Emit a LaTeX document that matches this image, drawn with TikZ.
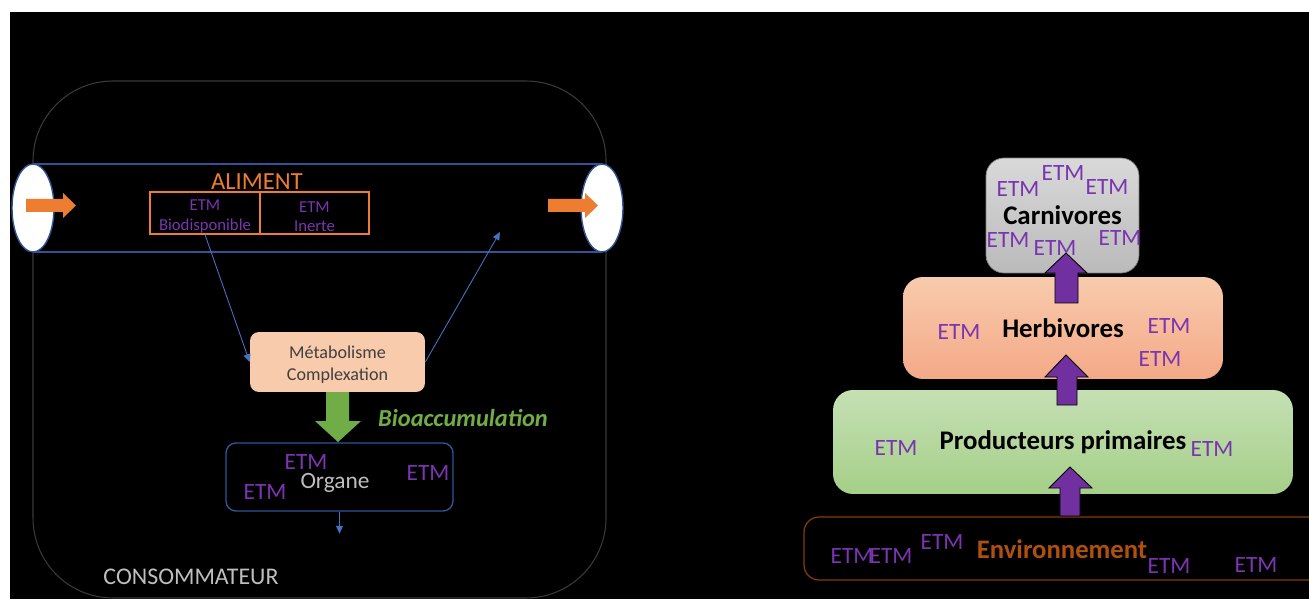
\documentclass[tikz,border=0pt]{standalone}
\usepackage{fontspec}
\setmainfont{Carlito}
\usetikzlibrary{shapes.geometric,arrows.meta}

\definecolor{tubeblue}{HTML}{2F5597}
\definecolor{linkblue}{HTML}{4472C4}
\definecolor{foodorange}{HTML}{ED7D31}
\definecolor{etmpurple}{HTML}{7A35B0}
\definecolor{arrowpurple}{HTML}{7030A0}
\definecolor{bioagreen}{HTML}{70AD47}
\definecolor{peach}{HTML}{F8CBAD}
\definecolor{peachdark}{HTML}{F4A987}
\definecolor{greentop}{HTML}{C5E0B4}
\definecolor{greenbot}{HTML}{A5CF88}
\definecolor{consgray}{HTML}{3A3A3A}
\definecolor{lightgray}{HTML}{BFBFBF}
\definecolor{envbrown}{HTML}{843C0C}
\definecolor{envtext}{HTML}{B0500F}

\tikzset{
  etmsmall/.style={text=etmpurple, font=\fontsize{9.5}{11}\selectfont, align=center, inner sep=0pt},
  etmbig/.style={text=etmpurple, font=\fontsize{13.3}{16}\selectfont, inner sep=0pt},
  levelbox/.style={rounded corners=0.4cm, inner sep=0pt, outer sep=0pt,
    font=\bfseries\fontsize{15.3}{18}\selectfont, text=black},
  foodbox/.style={draw=foodorange, line width=0.7pt, inner sep=0pt, minimum height=0.84cm},
  linkarrow/.style={linkblue, line width=0.5pt, -{Triangle[width=4pt,length=4.5pt]}},
  fatup/.style={fill=arrowpurple, draw=black, line width=0.5pt},
}

\begin{document}
\begin{tikzpicture}[x=0.02cm,y=-0.02cm]
\useasboundingbox (0,0) rectangle (1309,601);
\fill[white] (0,0) rectangle (1309,601);
\fill[black] (10,12) rectangle (1309,599);

% consommateur
\draw[consgray, line width=0.6pt, rounded corners=1.6cm] (33,81) rectangle (606,598);
\node[text=lightgray, font=\fontsize{13.6}{16}\selectfont] (cons) at (191,577) {CONSOMMATEUR};

% tube digestif
\draw[tubeblue, line width=0.9pt] (33,164) -- (602,164) (33,252) -- (602,252);
\node[ellipse, draw=tubeblue, fill=white, line width=0.8pt, inner sep=0pt,
  minimum width=0.84cm, minimum height=1.76cm] (tubein) at (33,208) {};
\node[ellipse, draw=tubeblue, fill=white, line width=0.8pt, inner sep=0pt,
  minimum width=0.84cm, minimum height=1.76cm] (tubeout) at (602,208) {};
\fill[foodorange] (26,199) -- (63,199) -- (63,193) -- (76,205.5) -- (63,218) -- (63,212) -- (26,212) -- cycle;
\fill[foodorange] (548,199) -- (585,199) -- (585,193) -- (598,205.5) -- (585,218) -- (585,212) -- (548,212) -- cycle;

\node[text=foodorange, font=\fontsize{14}{17}\selectfont] (aliment) at (257,182) {ALIMENT};
\node[foodbox, minimum width=2.2cm] (bio) at (205,213) {};
\node[foodbox, minimum width=2.18cm] (inerte) at (314.5,213) {};
\node[etmsmall] (biotxt) at (205,216.5) {ETM\\Biodisponible};
\node[etmsmall] (inertetxt) at (314.5,216.5) {ETM\\Inerte};

% metabolisme
\node[fill=peach, rounded corners=0.18cm, minimum width=3.5cm, minimum height=1.2cm] (metab) at (337.5,362) {};
\node[align=center, inner sep=0pt, text=black!75, font=\fontsize{10.3}{12.5}\selectfont] (metabtxt) at (337.5,365) {Métabolisme\\Complexation};
\coordinate (tubeexit) at (500,232);
\draw[linkarrow] (bio.south) -- (metab.west);
\draw[linkarrow] (metab.east) -- (tubeexit);

% bioaccumulation
\fill[bioagreen] (326,392) -- (349,392) -- (349,421) -- (361,421) -- (338,442) -- (315,421) -- (326,421) -- cycle;
\node[text=bioagreen, font=\bfseries\itshape\fontsize{13.9}{16}\selectfont] (bioacc) at (463,418) {Bioaccumulation};

% organe
\node[draw=tubeblue, line width=0.8pt, rounded corners=0.2cm, minimum width=4.54cm, minimum height=1.36cm] (organe) at (339.5,477) {};
\node[text=lightgray, font=\fontsize{13.3}{16}\selectfont, inner sep=0pt] (organelbl) at (335,483) {Organe};
\node[etmbig] (etmo1) at (306,462) {ETM};
\node[etmbig] (etmo2) at (265,492) {ETM};
\node[etmbig] (etmo3) at (428,473) {ETM};
\draw[linkarrow] (organe.south) -- ++(0,22);

% chaine trophique
\node[levelbox, rounded corners=0.36cm, draw=gray, top color=black!15, bottom color=black!27,
  minimum width=3.06cm, minimum height=2.3cm] (carn) at (1062.5,215.5) {Carnivores};
\node[levelbox, top color=peach, bottom color=peachdark,
  minimum width=6.4cm, minimum height=2.04cm] (herb) at (1063,328) {Herbivores};
\node[levelbox, top color=greentop, bottom color=greenbot,
  minimum width=9.2cm, minimum height=2.08cm] (prod) at (1063,442) {Producteurs primaires};
\node[draw=envbrown, line width=0.7pt, rounded corners=0.3cm, minimum width=10.52cm, minimum height=1.26cm] (env) at (1067,548.5) {};
\node[text=envtext, font=\bfseries\fontsize{15.2}{18}\selectfont, inner sep=0pt] (envlbl) at (1062,549) {Environnement};

% transferts
\draw[fatup] (1060,516) -- (1060,488) -- (1049,488) -- (1070,467) -- (1092,488) -- (1080,488) -- (1080,516) -- cycle;
\draw[fatup] (1057,405) -- (1057,377) -- (1045,377) -- (1066,355) -- (1088,377) -- (1077,377) -- (1077,405) -- cycle;
\draw[fatup] (1055,303) -- (1055,273) -- (1045,273) -- (1066,253) -- (1087,273) -- (1078,273) -- (1078,303) -- cycle;

\node[etmbig] (etmc1) at (1018,189) {ETM};
\node[etmbig] (etmc2) at (1063,173) {ETM};
\node[etmbig] (etmc3) at (1107,187) {ETM};
\node[etmbig] (etmc4) at (1008,240) {ETM};
\node[etmbig] (etmc5) at (1055,248) {ETM};
\node[etmbig] (etmc6) at (1120,238) {ETM};
\node[etmbig] (etmh1) at (959,332) {ETM};
\node[etmbig] (etmh2) at (1169,326) {ETM};
\node[etmbig] (etmh3) at (1160,359) {ETM};
\node[etmbig] (etmp1) at (896,448) {ETM};
\node[etmbig] (etmp2) at (1212,449) {ETM};
\node[etmbig] (etme1) at (852,556) {ETM};
\node[etmbig] (etme2) at (891,556) {ETM};
\node[etmbig] (etme3) at (942,542) {ETM};
\node[etmbig] (etme4) at (1169,566) {ETM};
\node[etmbig] (etme5) at (1256,565) {ETM};
\end{tikzpicture}
\end{document}
